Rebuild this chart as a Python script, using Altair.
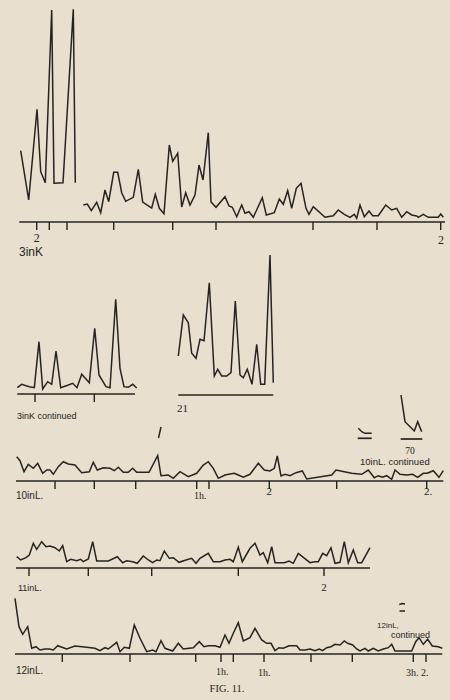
import altair as alt
import pandas as pd

INK = "#262422"
PAPER = "#e8dfce"
HAND = "Liberation Sans"
SERIF = "Liberation Serif"
TICK_LEN = 8

# ---------------- Row 1 : "3in K" ----------------
K3_A_T = [20.7, 28.7, 37, 40.7, 45.3, 51.7, 54, 63, 73.3, 75.3]
K3_A_V = [71.3, 22, 112.7, 50.3, 39.3, 212, 38.7, 39.3, 212.7, 39.3]
K3_B_T = [83.3, 87.3, 91.3, 96.7, 100.7, 105, 108.7, 113.7, 117.7, 121.7, 125.7, 133.3,
          138.3, 142.7, 151.7, 155.3, 159.3, 164, 169.3, 172.7, 177.7, 181.7, 185.7, 190,
          195, 199, 203, 208.3, 211, 216, 225, 229, 232.3, 236.7, 241.7, 245, 249, 253.3,
          262.3, 266.3, 274.3, 279.3, 283.3, 287.7, 291.7, 296.3, 301, 306, 309, 313.3,
          325, 333.3, 338.3, 344.3, 350, 354.3, 356.7, 360, 364.3, 369, 372.7, 378.3,
          385.7, 391.7, 396.7, 401.7, 406.7, 411.7, 416.7, 418.3, 423.3, 428.3, 433.3,
          438.3, 440.7, 443.3]
K3_B_V = [17, 18, 11.3, 19.7, 9.3, 32, 20.3, 49.7, 49.7, 29.3, 20.7, 24.7,
          52.7, 20, 14, 27.7, 13.7, 8.3, 77, 60.7, 68.7, 15, 29.3, 17,
          27, 57, 42, 89.3, 20, 14.7, 25.3, 16, 14.7, 5.3, 17, 8.7, 10.3, 4.7,
          24.3, 7, 9.3, 23, 17.7, 31.3, 13.7, 33.7, 38.7, 13.7, 7.7, 15.3,
          4.7, 6.3, 12, 7.7, 4.7, 7.7, 3.7, 17, 5.3, 11, 6.3, 6.3,
          17, 12, 13.7, 4.7, 10.3, 7, 6, 4.7, 7.7, 4.7, 4.7,
          4.7, 8, 4.7]
K3_TICKS = [36.7, 49.3, 67, 113.7, 172.7, 216, 313, 377, 440.7]

# ---------------- Row 2 : "3in K continued" and "21" ----------------
K3C_T = [17.3, 21.7, 29.3, 34.3, 39, 42.7, 47.7, 51.7, 56, 60.7, 67.7, 72.7, 77, 81.7,
         89.3, 94.7, 99, 106, 110, 115.7, 120, 124, 128.3, 132.7, 136.7]
K3C_V = [6.3, 9.7, 7.3, 6.3, 52.3, 5, 12.3, 9.7, 43, 6.3, 8.7, 10.7, 6.3, 19.7,
         11.3, 65.7, 19, 7.3, 6.3, 94.7, 25.7, 7.3, 6.7, 9.7, 6]
K3C_TICKS = [35, 94.3]
R21_T = [178.3, 183.3, 188.3, 191.7, 196, 200, 204, 209.3, 214.3, 217.7, 221.7, 226.7,
         231, 235.3, 240, 243.3, 247.3, 252, 256.7, 260.7, 264.7, 270, 273.3]
R21_V = [38, 79, 71.3, 40.7, 35.7, 54.7, 53.3, 111.3, 18, 24.7, 18, 18,
         21.3, 93, 19, 16.3, 24.7, 9.7, 49.7, 9.7, 9.7, 139, 11.3]

# ---------------- Row 3 : "10in L." ----------------
L10_T = [16.7, 20, 24, 28.3, 33.3, 37.7, 42.7, 46.7, 50, 53.3, 58.3, 63.3, 68.3, 75,
         81.7, 89.3, 93.3, 97.3, 103.3, 110, 114.3, 118.3, 123.3, 128.3, 132.7, 136.7,
         149, 157.7, 161, 168.3, 173.3, 180, 188.3, 196.7, 203.3, 208.3, 213.3, 218.3,
         225, 230, 234.3, 238.3, 243.3, 250, 258.3, 264.3, 270, 274.3, 277.3, 281, 285,
         290, 296, 302.3, 306.7, 331.7, 336, 351.7, 361.7, 368.3, 374.3, 378.3, 382.3,
         386.7, 391.7, 395, 400, 406.7, 412.7, 417.7, 423.3, 427.3, 433.3, 439, 443.3]
L10_V = [24.3, 20.3, 9.3, 16.7, 12.7, 17.7, 7.7, 11, 11, 6.7, 14.3, 19.3, 17, 16,
         8.3, 9.3, 18.7, 11, 13.3, 12.7, 10.3, 13.7, 8.7, 8.7, 12.7, 8.7,
         8.7, 25.3, 5.3, 6, 2.7, 9.3, 4.3, 7.7, 16, 19.3, 12.7, 2.7,
         6, 7, 7.7, 6, 3.7, 6.7, 17.7, 11, 10, 12.7, 25, 5, 6.7,
         5.3, 8.3, 10, 2, 6, 11, 7.7, 6.7, 11, 3.3, 5.3, 3.7,
         5.3, 1.7, 11, 6.7, 6, 6.7, 3.7, 7.7, 7.7, 10.3, 3.7, 10.3]
L10_TICKS = [55, 94.3, 135.7, 196.7, 209, 269.3, 336.7, 426.7]
# small continuation fragments drawn above the 10in L. record
L10_F1_T = [358.3, 361.7, 365, 371.7]
L10_F1_V = [52.7, 49.3, 47.7, 47.7]
L10_F2_T = [401, 405, 414.3, 417.7, 421.7]
L10_F2_V = [86, 59.3, 50, 59.3, 49.3]
L10_MARK_T = [158.5, 161]
L10_MARK_V = [43, 54]

# ---------------- Row 4 : "11in L." ----------------
L11_T = [16.7, 20.7, 26, 29.3, 33.3, 36.7, 41.7, 46, 50, 55, 59.3, 62.7, 66.7, 70.7,
         76.7, 80.7, 83.3, 88.3, 92.7, 96.7, 108.3, 117.3, 122.7, 126.7, 132.7, 137.3,
         143.3, 148.3, 152.7, 156.7, 160, 164.3, 169.3, 173.3, 179, 186, 191.7, 196,
         200, 208.3, 213.3, 220, 225, 230, 233.3, 238.3, 242.3, 250, 255, 260, 263.3,
         267.7, 271.7, 275, 284.3, 289, 293.3, 298.3, 310, 315, 318.3, 322.7, 326.7,
         331, 335, 340, 344.3, 348.3, 353.3, 357.7, 361.7, 370]
L11_V = [11.3, 8, 10.3, 13, 24.7, 18.7, 26.3, 21.3, 22, 20.3, 17, 22.3, 6.3, 8.7,
         7.3, 8.7, 6.3, 9, 26.3, 7, 7, 11.3, 5.3, 7.3, 6.3, 4.7,
         12, 8, 5.3, 8, 7.3, 17, 9.7, 10.3, 5.7, 8, 9.7, 4.7,
         9.7, 14.7, 6.3, 6.3, 8, 8.7, 6.3, 20.7, 6.3, 19.7, 24.7, 13, 15.3,
         5.3, 21.3, 5.3, 5.3, 7, 4.7, 14.7, 5.3, 6.3, 6.3, 14.7, 12.3,
         20.3, 4.7, 5.7, 26.3, 5.3, 18, 5.3, 5.3, 20.3]
L11_TICKS = [29, 88.3, 151.7, 238.3, 324]

# ---------------- Row 5 : "12in L." ----------------
L12_T = [15, 19, 22.7, 27.7, 31.7, 36, 40, 45, 49.3, 53.3, 57.7, 63.3, 66.7, 75,
         86.7, 95, 100, 105, 108.3, 116.7, 120, 124.3, 129.3, 134.3, 140, 146.7,
         152.7, 156, 161, 165, 172.7, 178.3, 183.3, 193.3, 199.3, 204, 208.3, 215,
         220, 225, 229, 233.3, 238.3, 243.3, 250, 255, 261.7, 266.7, 271, 275, 279,
         283.3, 289, 296.7, 300, 305, 310, 315, 319.3, 322.7, 326.7, 331, 335, 340,
         344.3, 347.7, 352.7, 356.7, 360, 365, 368.3, 373.3, 378.3, 383.3, 388.3,
         391.7, 395, 411.7, 415.7, 419, 423.3, 427.7, 432.3, 438.3, 442.3]
L12_V = [55.7, 27.3, 19.7, 27.3, 5.7, 7.3, 4, 5, 5, 4, 8.3, 6.3, 5, 8,
         6.7, 5.7, 3.3, 6.3, 5, 11.7, 2.3, 6.7, 5.7, 29, 15.7, 2.3,
         4, 2.3, 13.3, 5.7, 3, 10.7, 5, 6.3, 12.3, 7.3, 8.3, 8.3,
         6.7, 19, 10.7, 20.7, 31.3, 13, 16.3, 25.7, 14, 10.7, 10.7, 3.3, 6.3,
         5.7, 8.3, 8.3, 4, 4, 5, 3.3, 5, 3.3, 6.3, 7.3, 9.7, 9,
         13, 10.7, 9, 5, 3, 5.7, 3, 5.7, 3, 5, 6.3,
         9.7, 3, 3, 12.3, 16.3, 9.7, 14.7, 8, 7.3, 5.7]
L12_TICKS = [62.3, 130, 195.7, 221, 233.3, 264, 311, 352.3, 413.3, 426]
L12_EQ1_T = [399.3, 402, 405]
L12_EQ1_V = [49.5, 50.5, 50]
L12_EQ2_T = [399.5, 405]
L12_EQ2_V = [43, 43]

# Baselines per row: starts, ends, levels
ROW_BASES = {
    1: ([19.3], [445], [0]),
    2: ([17.3, 178.3], [135, 273.3], [0, -1]),
    3: ([16, 357.7, 400.7], [443.3, 371.7, 422.3], [0, 42.7, 42]),
    4: ([16], [370], [0]),
    5: ([15], [442.3], [0]),
}

# Labels: text, x, level, font kind, size, alignment
LABELS = {
    1: [("2", 36.7, -16, "serif", 12, "center"),
        ("3inK", 19, -30, "hand", 12, "left"),
        ("2", 441, -18, "serif", 12, "center")],
    2: [("3inK continued", 17, -22, "hand", 9, "left"),
        ("21", 177, -15, "serif", 11, "left")],
    3: [("10inL.", 16, -15, "hand", 10, "left"),
        ("1h.", 194, -15, "serif", 10, "left"),
        ("2", 269.3, -11, "serif", 11, "center"),
        ("2.", 428, -11, "serif", 11, "center"),
        ("70", 410, 30.5, "serif", 9.5, "center"),
        ("10inL. continued", 360, 19, "hand", 9.5, "left")],
    4: [("11inL.", 18, -20, "hand", 9, "left"),
        ("2", 324, -20, "serif", 11, "center")],
    5: [("12inL.", 16, -17, "hand", 10, "left"),
        ("1h.", 216, -18, "serif", 10, "left"),
        ("1h.", 258, -19, "serif", 10, "left"),
        ("3h. 2.", 406, -19, "serif", 10, "left"),
        ("12inL,", 377, 28, "hand", 8, "left"),
        ("continued", 391, 19, "hand", 9, "left"),
        ("FIG. 11.", 227, -35, "serif", 10.5, "center")],
}

ROWS = [
    # row, height, y domain, traces, ticks
    (1, 260, [-38, 222], [("a", K3_A_T, K3_A_V), ("b", K3_B_T, K3_B_V)], K3_TICKS),
    (2, 160, [-26, 134], [("a", K3C_T, K3C_V), ("b", R21_T, R21_V)], K3C_TICKS),
    (3, 85, [-24, 61], [("a", L10_T, L10_V), ("f1", L10_F1_T, L10_F1_V),
                        ("f2", L10_F2_T, L10_F2_V), ("m", L10_MARK_T, L10_MARK_V)], L10_TICKS),
    (4, 90, [-27, 63], [("a", L11_T, L11_V)], L11_TICKS),
    (5, 105, [-46, 59], [("a", L12_T, L12_V), ("e1", L12_EQ1_T, L12_EQ1_V),
                         ("e2", L12_EQ2_T, L12_EQ2_V)], L12_TICKS),
]


def make_row(row, height, ydom, traces, ticks):
    xs = alt.Scale(domain=[0, 450], nice=False, zero=False)
    ys = alt.Scale(domain=ydom, nice=False, zero=False)
    frames = []
    for name, t, v in traces:
        frames.append(pd.DataFrame({"t": t, "v": v, "seg": name, "i": range(len(t))}))
    lines = pd.concat(frames, ignore_index=True)
    x0, x1, lv = ROW_BASES[row]
    bases = pd.DataFrame({"x0": x0, "x1": x1, "lv": lv})
    tk = pd.DataFrame({"t": ticks, "top": 0, "bot": -TICK_LEN})
    lab = pd.DataFrame(LABELS[row], columns=["text", "x", "lv", "kind", "fsize", "halign"])

    layers = [
        alt.Chart(lines).mark_line(color=INK, strokeWidth=1.5).encode(
            x=alt.X("t:Q", scale=xs, axis=None),
            y=alt.Y("v:Q", scale=ys, axis=None),
            detail="seg:N", order="i:Q"),
        alt.Chart(bases).mark_rule(color=INK, strokeWidth=1.7).encode(
            x=alt.X("x0:Q", scale=xs, axis=None), x2="x1:Q",
            y=alt.Y("lv:Q", scale=ys, axis=None)),
        alt.Chart(tk).mark_rule(color=INK, strokeWidth=1.4).encode(
            x=alt.X("t:Q", scale=xs, axis=None),
            y=alt.Y("top:Q", scale=ys, axis=None), y2="bot:Q"),
    ]
    for kind, font in (("hand", HAND), ("serif", SERIF)):
        for align in ("left", "center"):
            sub = lab[(lab["kind"] == kind) & (lab["halign"] == align)]
            if len(sub) == 0:
                continue
            layers.append(
                alt.Chart(sub).mark_text(color=INK, font=font, align=align,
                                         baseline="middle").encode(
                    x=alt.X("x:Q", scale=xs, axis=None),
                    y=alt.Y("lv:Q", scale=ys, axis=None),
                    text="text:N",
                    size=alt.Size("fsize:Q", scale=None, legend=None)))
    return alt.layer(*layers).properties(width=450, height=height)


rows = [make_row(*r) for r in ROWS]
chart = alt.vconcat(*rows, spacing=0, bounds="flush", padding=0,
                    background=PAPER).configure_view(stroke=None)

chart.save("out.html", embed_options={"renderer": "svg", "actions": False})
